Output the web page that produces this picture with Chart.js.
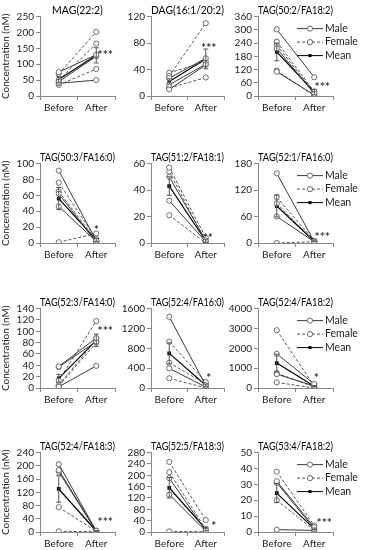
<!DOCTYPE html>
<html>
<head>
<meta charset="utf-8">
<script src="https://cdn.jsdelivr.net/npm/chart.js@4.4.1/dist/chart.umd.min.js"></script>
<style>
    body { margin: 0; background: #fff; width: 366px; height: 550px; overflow: hidden; position: relative; }
    canvas { position: absolute; }
</style>
</head>
<body>
<script>
// Data
const categories = ['Before', 'After'];
const titles = [
    'MAG(22:2)', 'DAG(16:1/20:2)', 'TAG(50:2/FA18:2)',
    'TAG(50:3/FA16:0)', 'TAG(51:2/FA18:1)', 'TAG(52:1/FA16:0)',
    'TAG(52:3/FA14:0)', 'TAG(52:4/FA16:0)', 'TAG(52:4/FA18:2)',
    'TAG(52:4/FA18:3)', 'TAG(52:5/FA18:3)', 'TAG(53:4/FA18:2)'
];
const yMax = [250, 120, 360, 100, 60, 180, 140, 1600, 4000, 240, 280, 50];
const yStep = [50, 40, 60, 20, 20, 60, 20, 400, 1000, 40, 40, 10];

// each subject: [Before, After]
const maleValues = [
    [[75, 130], [45, 125], [40, 50]],
    [[27, 57], [17, 48], [10, 47]],
    [[302, 85], [216, 10], [110, 5]],
    [[91, 3], [62, 1], [46, 2]],
    [[50, 2], [32, 1]],
    [[158, 3], [60, 3]],
    [[38, 88], [37, 82], [2, 39]],
    [[1436, 50], [396, 20]],
    [[1720, 200], [700, 100]],
    [[205, 3], [187, 4], [182, 2]],
    [[190, 5], [132, 3]],
    [[32, 3], [31, 2], [1.5, 1]]
];
const femaleValues = [
    [[70, 202], [50, 165], [35, 85]],
    [[30, 110], [35, 52], [12, 28]],
    [[246, 20], [230, 15], [115, 2]],
    [[76, 5], [65, 3], [1, 12]],
    [[57, 4], [54, 1], [21, 0]],
    [[104, 5], [90, 4], [0, 3]],
    [[13, 118], [5, 85], [3, 80]],
    [[933, 120], [510, 80], [195, 0]],
    [[2910, 100], [750, 50], [284, 0]],
    [[75, 2], [2, 1]],
    [[247, 42], [211, 10], [2, 1]],
    [[38, 4], [20, 1]]
];
const meanValues = [
    [52, 128], [22, 56], [200, 18], [56, 4], [43, 1.5], [84, 4],
    [17, 84], [698, 55], [1254, 90], [130, 3], [156, 10], [24.5, 2]
];
const semValues = [
    [9, 24], [4, 15], [40, 12], [14, 2], [7, 1], [25, 1],
    [7, 11], [210, 22], [450, 35], [40, 1], [36, 6], [6, 0.5]
];
const sigLabels = ['***', '***', '***', '*', '**', '***', '***', '*', '*', '***', '*', '***'];
const sigValues = [137, 77, 56, 20, 6, 19, 105, 268, 650, 40, 32, 7.7];
const legendLabels = ['Male', 'Female', 'Mean'];

// layout of the 4 x 3 grid
const colPlotLeft = [40, 151, 258];
const colPlotRight = [115, 224, 333];
const colCanvasLeft = [0, 118, 226];
const colCanvasRight = [132, 240, 366];
const rowPlotTop = [17, 164, 309, 453];
const plotHeight = 79;
const titleH = 16;
const xAxisH = 20;
const sigDx = [9, 3, 8, 0, 2, 8, 9, 3, 2, 9, 8, 10];

const FONT = 'Lato, "Open Sans", sans-serif';
Chart.defaults.font.family = FONT;

const errorBars = {
    id: 'errorBars',
    afterDatasetsDraw(chart) {
        const ctx = chart.ctx;
        const xs = chart.scales.x, ys = chart.scales.y;
        chart.data.datasets.forEach(ds => {
            if (!ds.err) return;
            ds.data.forEach((v, j) => {
                const x = xs.getPixelForValue(j);
                const y1 = ys.getPixelForValue(v + ds.err[j]);
                const y2 = ys.getPixelForValue(Math.max(v - ds.err[j], 0));
                ctx.save();
                ctx.strokeStyle = '#555';
                ctx.lineWidth = 1;
                ctx.beginPath();
                ctx.moveTo(x, y1); ctx.lineTo(x, y2);
                ctx.moveTo(x - 2.5, y1); ctx.lineTo(x + 2.5, y1);
                ctx.moveTo(x - 2.5, y2); ctx.lineTo(x + 2.5, y2);
                ctx.stroke();
                ctx.restore();
            });
        });
    }
};

const sigMarks = {
    id: 'sigMarks',
    afterDraw(chart, args, opts) {
        const ctx = chart.ctx;
        const x = chart.scales.x.getPixelForValue(1) + opts.dx;
        const y = chart.scales.y.getPixelForValue(opts.value);
        ctx.save();
        ctx.fillStyle = '#333';
        ctx.font = 'bold 12px ' + FONT;
        ctx.textAlign = 'center';
        ctx.textBaseline = 'middle';
        ctx.fillText(opts.text, x, y + 3);
        ctx.restore();
    }
};

const sideLegend = {
    id: 'sideLegend',
    afterDraw(chart, args, opts) {
        if (!opts.show) return;
        const ctx = chart.ctx;
        const area = chart.chartArea;
        const lx = area.left + 39;
        legendLabels.forEach((label, k) => {
            const y = area.top + 12 + k * 13.5;
            ctx.save();
            ctx.strokeStyle = k === 1 ? '#555' : (k === 2 ? '#000' : '#3a3a3a');
            ctx.lineWidth = 1;
            ctx.setLineDash(k === 1 ? [3, 2] : []);
            ctx.beginPath();
            ctx.moveTo(lx, y); ctx.lineTo(lx + 26, y);
            ctx.stroke();
            ctx.setLineDash([]);
            if (k < 2) {
                ctx.fillStyle = '#fff';
                ctx.strokeStyle = '#6b6b6b';
                ctx.beginPath();
                ctx.arc(lx + 13, y, 2.6, 0, Math.PI * 2);
                ctx.fill(); ctx.stroke();
            } else {
                ctx.fillStyle = '#000';
                ctx.fillRect(lx + 11.5, y - 1.5, 3, 3);
            }
            ctx.fillStyle = '#222';
            ctx.font = '10.5px ' + FONT;
            ctx.textAlign = 'left';
            ctx.textBaseline = 'middle';
            ctx.fillText(label, lx + 28, y);
            ctx.restore();
        });
    }
};

titles.forEach((title, i) => {
    const row = Math.floor(i / 3);
    const col = i % 3;
    const canvas = document.createElement('canvas');
    const w = colCanvasRight[col] - colCanvasLeft[col];
    const h = titleH + plotHeight + xAxisH;
    canvas.width = w;
    canvas.height = h;
    canvas.style.left = colCanvasLeft[col] + 'px';
    canvas.style.top = (rowPlotTop[row] - titleH) + 'px';
    canvas.style.width = w + 'px';
    canvas.style.height = h + 'px';
    document.body.appendChild(canvas);

    const yw = colPlotLeft[col] - colCanvasLeft[col];

    const datasets = [];
    maleValues[i].forEach(v => {
        datasets.push({
            data: v, borderColor: '#3a3a3a', borderWidth: 1,
            pointRadius: 2.6, pointBackgroundColor: '#fff',
            pointBorderColor: '#6b6b6b', pointBorderWidth: 1
        });
    });
    femaleValues[i].forEach(v => {
        datasets.push({
            data: v, borderColor: '#555', borderWidth: 1, borderDash: [3, 2],
            pointRadius: 2.6, pointBackgroundColor: '#fff',
            pointBorderColor: '#6b6b6b', pointBorderWidth: 1
        });
    });
    datasets.push({
        data: meanValues[i], err: semValues[i], borderColor: '#000', borderWidth: 1.2,
        pointStyle: 'rect', pointRadius: 1.8, pointBackgroundColor: '#000', pointBorderColor: '#000'
    });

    new Chart(canvas, {
        type: 'line',
        data: { labels: categories, datasets: datasets },
        plugins: [errorBars, sigMarks, sideLegend],
        options: {
            responsive: false,
            animation: false,
            devicePixelRatio: 1,
            layout: { padding: { top: 0, left: 0, right: colCanvasRight[col] - colPlotRight[col], bottom: 0 } },
            plugins: {
                legend: { display: false },
                tooltip: { enabled: false },
                title: {
                    display: true, text: title, fullSize: false, color: '#000',
                    font: { size: 10.5, weight: 'normal' },
                    padding: { top: 3, bottom: 0 }
                },
                sigMarks: { text: sigLabels[i], value: sigValues[i], dx: sigDx[i] },
                sideLegend: { show: col === 2 }
            },
            scales: {
                x: {
                    type: 'category',
                    offset: true,
                    grid: { offset: true, drawOnChartArea: false, tickLength: 4, color: '#888' },
                    border: { color: '#888' },
                    ticks: { color: '#222', font: { size: 10 }, padding: 2, maxRotation: 0 },
                    afterFit: s => { s.height = xAxisH; }
                },
                y: {
                    min: 0,
                    max: yMax[i],
                    grid: { drawOnChartArea: false, tickLength: 4, color: '#888' },
                    border: { color: '#888' },
                    ticks: {
                        stepSize: yStep[i], autoSkip: false, color: '#222', font: { size: 10 }, padding: 2,
                        callback: v => String(v)
                    },
                    title: {
                        display: col === 0, text: 'Concentration (nM)', color: '#222',
                        font: { size: 10 }, padding: 0
                    },
                    afterFit: s => { s.width = yw; }
                }
            }
        }
    });
});
</script>
</body>
</html>
